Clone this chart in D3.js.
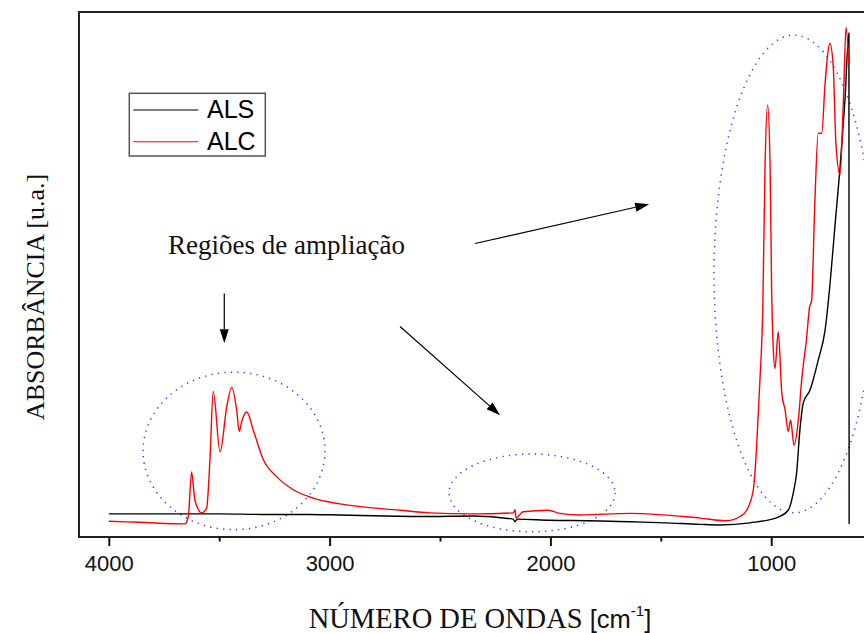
<!DOCTYPE html>
<html>
<head>
<meta charset="utf-8">
<script src="https://cdn.jsdelivr.net/npm/d3@7"></script>
<style>
  body { margin: 0; background: #fff; }
  svg { display: block; }
</style>
</head>
<body>
<svg width="864" height="633"></svg>
<script>
// Spectra (wavenumber in cm-1, absorbance in arbitrary units)
const alsWave = [4000, 3859, 3700, 3500, 3300, 3100, 2953, 2750, 2545, 2351, 2169, 2160, 2151, 2002, 1820, 1639,
    1480, 1322, 1232, 1096, 968, 923, 900, 885, 870, 855, 824, 787, 756, 734, 711, 688, 666, 648, 647];
const alsAbs = [0.044, 0.044, 0.044, 0.044, 0.043, 0.043, 0.042, 0.040, 0.039, 0.040, 0.034, 0.029, 0.034, 0.032, 0.031, 0.029,
    0.027, 0.024, 0.023, 0.027, 0.038, 0.051, 0.084, 0.122, 0.204, 0.255, 0.280, 0.337, 0.394, 0.480, 0.594, 0.705, 0.832, 0.960, 0.025];

const alcWave = [4000, 3859, 3655, 3640, 3625, 3610, 3579, 3557, 3542, 3527, 3496, 3466, 3443, 3421, 3409, 3398,
    3375, 3346, 3300, 3240, 3164, 3074, 2953, 2681, 2545, 2351, 2168, 2160, 2156, 2124, 2010, 1957, 1866, 1639,
    1322, 1202, 1141, 1111, 1081, 1066, 1051, 1038, 1028, 1016, 1005, 998, 991, 983, 968, 952, 937, 923, 912,
    897, 877, 862, 839, 827, 817, 802, 787, 771, 756, 734, 719, 707, 688, 673, 661, 649];
const alcAbs = [0.030, 0.028, 0.025, 0.039, 0.124, 0.070, 0.046, 0.055, 0.147, 0.277, 0.162, 0.248, 0.285, 0.242, 0.201, 0.220,
    0.238, 0.204, 0.147, 0.115, 0.090, 0.074, 0.063, 0.051, 0.046, 0.044, 0.046, 0.052, 0.036, 0.048, 0.051, 0.045, 0.042, 0.045,
    0.036, 0.031, 0.039, 0.051, 0.090, 0.172, 0.299, 0.439, 0.705, 0.823, 0.705, 0.470, 0.362, 0.321, 0.391, 0.274, 0.242, 0.201, 0.223,
    0.175, 0.223, 0.299, 0.382, 0.436, 0.451, 0.642, 0.769, 0.769, 0.864, 0.940, 0.896, 0.750, 0.690, 0.832, 0.971, 0.903];

const majorTicks = [4000, 3000, 2000, 1000];
const minorTicks = [3500, 2500, 1500];

const seriesNames = ["ALS", "ALC"];
const seriesColors = ["#000000", "#ff0000"];

// Highlighted regions: centre (cm-1, abs) and radii (cm-1, abs)
const regionCx = [3433, 2083, 897];
const regionCy = [0.164, 0.084, 0.501];
const regionRx = [412, 376, 362];
const regionRy = [0.150, 0.074, 0.455];

// Annotation arrows: start and end (cm-1, abs)
const arrowX1 = [2341, 3477, 2681];
const arrowY1 = [0.559, 0.464, 0.401];
const arrowX2 = [1553, 3477, 2228];
const arrowY2 = [0.634, 0.369, 0.232];

const svg = d3.select("svg");

const plotLeft = 79, plotTop = 12, plotBottom = 537;
const x = d3.scaleLinear().domain([4135, 500]).range([plotLeft, 881.6]);
const y = d3.scaleLinear().domain([0, 1]).range([plotBottom, plotTop]);

const serif = "'Liberation Serif', 'Times New Roman', Times, serif";
const sans = "'Liberation Sans', Arial, Helvetica, sans-serif";

// Regions (dotted ellipses)
svg.append("g")
    .selectAll("ellipse")
    .data(regionCx)
    .join("ellipse")
    .attr("cx", (d, i) => x(d))
    .attr("cy", (d, i) => y(regionCy[i]))
    .attr("rx", (d, i) => Math.abs(x(d + regionRx[i]) - x(d)))
    .attr("ry", (d, i) => Math.abs(y(regionCy[i] + regionRy[i]) - y(regionCy[i])))
    .attr("fill", "none")
    .attr("stroke", "#3a3aff")
    .attr("stroke-width", 1.5)
    .attr("stroke-dasharray", "1.3,5.2");

// Spectra
const line = d3.line()
    .x(d => x(d[0]))
    .y(d => y(d[1]))
    .curve(d3.curveMonotoneX);

const series = [
    d3.zip(alsWave, alsAbs),
    d3.zip(alcWave, alcAbs)
];

svg.append("g")
    .selectAll("path")
    .data(series)
    .join("path")
    .attr("d", line)
    .attr("fill", "none")
    .attr("stroke", (d, i) => seriesColors[i])
    .attr("stroke-width", 1.4)
    .attr("stroke-linejoin", "round");

// Frame
svg.append("rect")
    .attr("x", plotLeft)
    .attr("y", plotTop)
    .attr("width", 900)
    .attr("height", plotBottom - plotTop)
    .attr("fill", "none")
    .attr("stroke", "#222")
    .attr("stroke-width", 2);

// X axis
const xAxis = svg.append("g")
    .attr("transform", `translate(0,${plotBottom})`)
    .call(d3.axisBottom(x).tickValues(majorTicks).tickSize(9).tickFormat(d3.format("d")));
xAxis.select(".domain").remove();
xAxis.selectAll(".tick line").attr("stroke", "#111").attr("stroke-width", 2);
xAxis.selectAll(".tick text")
    .attr("y", 33.7)
    .attr("dy", null)
    .attr("fill", "#111")
    .style("font-family", sans)
    .style("font-size", "22px");

const xMinor = svg.append("g")
    .attr("transform", `translate(0,${plotBottom})`)
    .call(d3.axisBottom(x).tickValues(minorTicks).tickSize(4.5).tickFormat(""));
xMinor.select(".domain").remove();
xMinor.selectAll(".tick line").attr("stroke", "#111").attr("stroke-width", 2);

// Axis titles
const xTitle = svg.append("text")
    .attr("x", 480)
    .attr("y", 628)
    .attr("text-anchor", "middle")
    .attr("fill", "#111")
    .style("font-family", serif)
    .style("font-size", "28.5px");
xTitle.append("tspan").text("NÚMERO DE ONDAS ");
xTitle.append("tspan").style("font-family", sans).style("font-size", "25.5px").text("[cm");
xTitle.append("tspan").style("font-family", sans).style("font-size", "15px").attr("dy", -12).text("-1");
xTitle.append("tspan").style("font-family", sans).style("font-size", "25.5px").attr("dy", 12).text("]");

svg.append("text")
    .attr("transform", "translate(44,297) rotate(-90)")
    .attr("text-anchor", "middle")
    .attr("fill", "#111")
    .style("font-family", serif)
    .style("font-size", "26px")
    .text("ABSORBÂNCIA [u.a.]");

// Annotation
svg.append("text")
    .attr("x", x(3732))
    .attr("y", y(0.539))
    .attr("fill", "#111")
    .style("font-family", serif)
    .style("font-size", "27px")
    .text("Regiões de ampliação");

const arrows = svg.append("g");
arrowX1.forEach((d, i) => {
    const x1 = x(d), y1 = y(arrowY1[i]);
    const x2 = x(arrowX2[i]), y2 = y(arrowY2[i]);
    const a = Math.atan2(y2 - y1, x2 - x1);
    const len = 14, half = 4.5;
    const bx = x2 - len * Math.cos(a), by = y2 - len * Math.sin(a);
    arrows.append("line")
        .attr("x1", x1).attr("y1", y1)
        .attr("x2", bx).attr("y2", by)
        .attr("stroke", "#000")
        .attr("stroke-width", 1.2);
    arrows.append("path")
        .attr("d", `M${x2},${y2}L${bx + half * Math.sin(a)},${by - half * Math.cos(a)}L${bx - half * Math.sin(a)},${by + half * Math.cos(a)}Z`)
        .attr("fill", "#000");
});

// Legend
const legend = svg.append("g");
legend.append("rect")
    .attr("x", 129.3)
    .attr("y", 93.3)
    .attr("width", 136)
    .attr("height", 62.7)
    .attr("fill", "#fff")
    .attr("stroke", "#555")
    .attr("stroke-width", 1.5);

seriesNames.forEach((name, i) => {
    const ly = 110 + i * 31.7;
    legend.append("line")
        .attr("x1", 133.3).attr("x2", 198.3)
        .attr("y1", ly).attr("y2", ly)
        .attr("stroke", seriesColors[i])
        .attr("stroke-width", 1.1);
    legend.append("text")
        .attr("x", 207)
        .attr("y", ly + 8)
        .attr("fill", "#000")
        .style("font-family", sans)
        .style("font-size", "25px")
        .text(name);
});
</script>
</body>
</html>
